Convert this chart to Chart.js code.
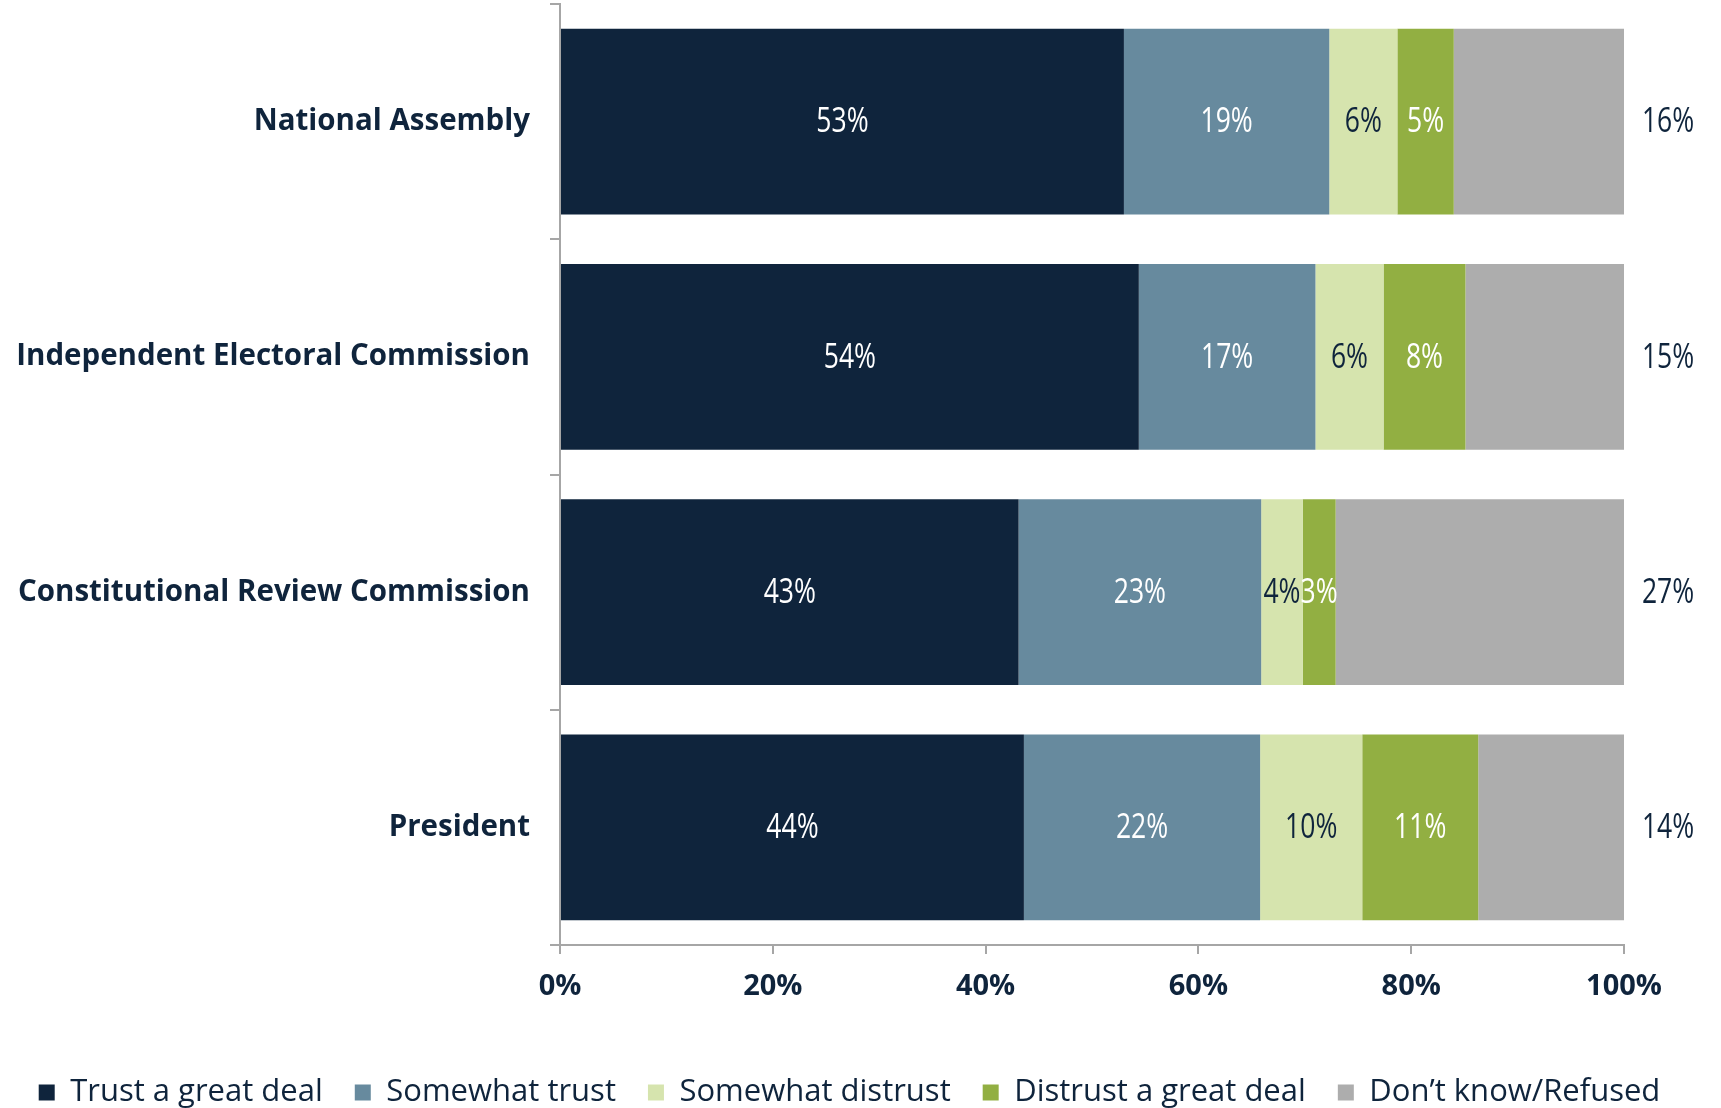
<!DOCTYPE html>
<html>
<head>
<meta charset="utf-8">
<script src="https://cdn.jsdelivr.net/npm/chart.js@4/dist/chart.umd.min.js"></script>
<style>
  html, body { margin: 0; padding: 0; background: #fff; }
  #wrap { width: 1721px; height: 1108px; }
</style>
</head>
<body>
<div id="wrap"><canvas id="myChart" width="1721" height="1108"></canvas></div>
<script>
// 値
var categories = ['National Assembly', 'Independent Electoral Commission', 'Constitutional Review Commission', 'President'];
var seriesNames = ['Trust a great deal', 'Somewhat trust', 'Somewhat distrust', 'Distrust a great deal', 'Don\u2019t know/Refused'];
var trustGreat = [53.0, 54.4, 43.1, 43.6];
var somewhatTrust = [19.3, 16.6, 22.8, 22.2];
var somewhatDistrust = [6.4, 6.4, 3.9, 9.6];
var distrustGreat = [5.3, 7.7, 3.1, 10.9];
var dontKnow = [16.0, 14.9, 27.1, 13.7];
var tickValues = [0, 20, 40, 60, 80, 100];

var colors = ['#0F243C', '#678A9E', '#D6E4AE', '#92AF42', '#ADADAD'];
var labelColors = ['#FFFFFF', '#FFFFFF', '#0F243C', '#FFFFFF', '#0F243C'];
var navy = '#0F243C';

// データラベル（細い書体の代わりに横方向を縮める）
var valueLabels = {
  id: 'valueLabels',
  afterDatasetsDraw: function(chart) {
    var ctx = chart.ctx;
    var xScale = chart.scales.x;
    chart.data.datasets.forEach(function(ds, i) {
      var meta = chart.getDatasetMeta(i);
      meta.data.forEach(function(bar, j) {
        var txt = Math.round(ds.data[j]) + '%';
        var x = (i === 4) ? xScale.getPixelForValue(100) + 44 : (bar.x + bar.base) / 2;
        ctx.save();
        ctx.translate(x, bar.y + 1);
        ctx.scale(0.78, 1);
        ctx.font = '34px "Open Sans", sans-serif';
        ctx.textAlign = 'center';
        ctx.textBaseline = 'middle';
        ctx.fillStyle = labelColors[i];
        ctx.fillText(txt, 0, 0);
        ctx.restore();
      });
    });
  }
};

var data = [trustGreat, somewhatTrust, somewhatDistrust, distrustGreat, dontKnow];
var datasets = seriesNames.map(function(name, i) {
  return {
    label: name,
    data: data[i],
    backgroundColor: colors[i],
    borderWidth: 0,
    categoryPercentage: 1.0,
    barPercentage: 0.79
  };
});

var ctx = document.getElementById('myChart').getContext('2d');
var myChart = new Chart(ctx, {
  type: 'bar',
  data: { labels: categories, datasets: datasets },
  plugins: [valueLabels],
  options: {
    indexAxis: 'y',
    responsive: false,
    animation: false,
    layout: { padding: { top: 4, right: 22, left: 0, bottom: -10 } },
    plugins: {
      tooltip: { enabled: false },
      legend: {
        position: 'bottom',
        labels: {
          color: navy,
          font: { family: '"Open Sans", sans-serif', size: 31 },
          boxWidth: 16,
          boxHeight: 16,
          padding: 32
        }
      }
    },
    scales: {
      x: {
        stacked: true,
        min: 0,
        max: 100,
        afterBuildTicks: function(scale) {
          scale.ticks = tickValues.map(function(v) { return { value: v }; });
        },
        afterFit: function(scale) {
          scale.height = 100;
          scale.paddingRight = 97;
        },
        border: { display: true, color: '#A6A6A6', width: 2 },
        grid: { display: true, drawOnChartArea: false, drawTicks: true, tickLength: 9, color: '#A6A6A6', lineWidth: 2 },
        ticks: {
          color: navy,
          padding: 15,
          font: { family: '"Open Sans", sans-serif', size: 29, weight: 'bold' },
          callback: function(v) { return v + '%'; }
        }
      },
      y: {
        stacked: true,
        afterFit: function(scale) {
          scale.width = 560;
          scale.paddingTop = 0;
          scale.paddingBottom = 0;
        },
        border: { display: true, color: '#A6A6A6', width: 2 },
        grid: { display: true, offset: true, drawOnChartArea: false, drawTicks: true, tickLength: 10, color: '#A6A6A6', lineWidth: 2 },
        ticks: {
          color: navy,
          padding: 20,
          font: { family: '"Open Sans", sans-serif', size: 29.5, weight: 'bold' }
        }
      }
    }
  }
});
</script>
</body>
</html>
